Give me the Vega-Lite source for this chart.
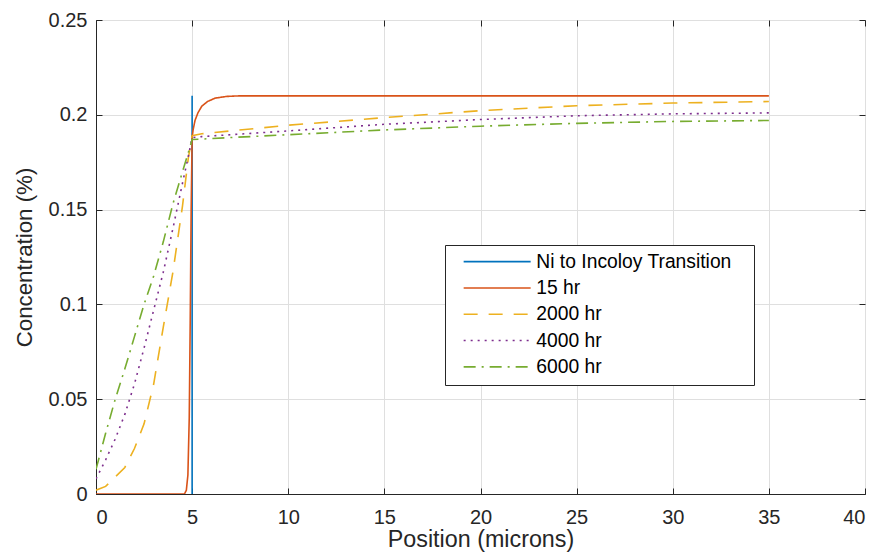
{
  "$schema": "https://vega.github.io/schema/vega-lite/v6.json",
  "width": 769,
  "height": 474,
  "autosize": {"type": "none"},
  "padding": {"left": 96, "top": 20, "right": 20, "bottom": 66},
  "background": "white",
  "config": {
    "font": "Liberation Sans",
    "view": {"stroke": "#262626", "strokeWidth": 1},
    "axis": {
      "domainColor": "#262626",
      "tickColor": "#262626",
      "labelColor": "#262626",
      "titleColor": "#262626",
      "gridColor": "#dfdfdf",
      "titleFontWeight": "normal",
      "labelFontSize": 20,
      "titleFontSize": 22.3
    }
  },
  "data": {
    "values": [
      {"series": "Ni to Incoloy Transition", "x": 5, "y": 0},
      {"series": "Ni to Incoloy Transition", "x": 5, "y": 0.21},
      {"series": "15 hr", "x": 0, "y": 0},
      {"series": "15 hr", "x": 4.6, "y": 0},
      {"series": "15 hr", "x": 4.7, "y": 0.002},
      {"series": "15 hr", "x": 4.78, "y": 0.01},
      {"series": "15 hr", "x": 4.85, "y": 0.04},
      {"series": "15 hr", "x": 4.9, "y": 0.09},
      {"series": "15 hr", "x": 4.95, "y": 0.15},
      {"series": "15 hr", "x": 5.0, "y": 0.188},
      {"series": "15 hr", "x": 5.05, "y": 0.192},
      {"series": "15 hr", "x": 5.15, "y": 0.197},
      {"series": "15 hr", "x": 5.3, "y": 0.201},
      {"series": "15 hr", "x": 5.5, "y": 0.2045},
      {"series": "15 hr", "x": 5.8, "y": 0.207},
      {"series": "15 hr", "x": 6.2, "y": 0.2088},
      {"series": "15 hr", "x": 6.8, "y": 0.2097},
      {"series": "15 hr", "x": 7.5, "y": 0.21},
      {"series": "15 hr", "x": 10, "y": 0.21},
      {"series": "15 hr", "x": 35, "y": 0.21},
      {"series": "2000 hr", "x": 0, "y": 0.002},
      {"series": "2000 hr", "x": 0.5, "y": 0.004},
      {"series": "2000 hr", "x": 1, "y": 0.009},
      {"series": "2000 hr", "x": 1.5, "y": 0.014},
      {"series": "2000 hr", "x": 2, "y": 0.024},
      {"series": "2000 hr", "x": 2.5, "y": 0.037},
      {"series": "2000 hr", "x": 3, "y": 0.058},
      {"series": "2000 hr", "x": 3.5, "y": 0.088},
      {"series": "2000 hr", "x": 4, "y": 0.117},
      {"series": "2000 hr", "x": 4.5, "y": 0.152},
      {"series": "2000 hr", "x": 4.8, "y": 0.177},
      {"series": "2000 hr", "x": 5, "y": 0.189},
      {"series": "2000 hr", "x": 5.5, "y": 0.19},
      {"series": "2000 hr", "x": 7, "y": 0.1915},
      {"series": "2000 hr", "x": 10, "y": 0.1945},
      {"series": "2000 hr", "x": 15, "y": 0.1985},
      {"series": "2000 hr", "x": 20, "y": 0.2022},
      {"series": "2000 hr", "x": 25, "y": 0.2048},
      {"series": "2000 hr", "x": 30, "y": 0.2062},
      {"series": "2000 hr", "x": 35, "y": 0.207},
      {"series": "4000 hr", "x": 0, "y": 0.008},
      {"series": "4000 hr", "x": 0.5, "y": 0.018},
      {"series": "4000 hr", "x": 1, "y": 0.029},
      {"series": "4000 hr", "x": 1.5, "y": 0.042},
      {"series": "4000 hr", "x": 2, "y": 0.058},
      {"series": "4000 hr", "x": 2.5, "y": 0.077},
      {"series": "4000 hr", "x": 3, "y": 0.097},
      {"series": "4000 hr", "x": 3.5, "y": 0.117},
      {"series": "4000 hr", "x": 4, "y": 0.14},
      {"series": "4000 hr", "x": 4.5, "y": 0.164},
      {"series": "4000 hr", "x": 4.8, "y": 0.178},
      {"series": "4000 hr", "x": 5, "y": 0.188},
      {"series": "4000 hr", "x": 5.5, "y": 0.1885},
      {"series": "4000 hr", "x": 7, "y": 0.1895},
      {"series": "4000 hr", "x": 10, "y": 0.1915},
      {"series": "4000 hr", "x": 15, "y": 0.195},
      {"series": "4000 hr", "x": 20, "y": 0.1975},
      {"series": "4000 hr", "x": 25, "y": 0.1995},
      {"series": "4000 hr", "x": 30, "y": 0.2005},
      {"series": "4000 hr", "x": 35, "y": 0.201},
      {"series": "6000 hr", "x": 0, "y": 0.013},
      {"series": "6000 hr", "x": 0.5, "y": 0.032},
      {"series": "6000 hr", "x": 1, "y": 0.05},
      {"series": "6000 hr", "x": 1.5, "y": 0.066},
      {"series": "6000 hr", "x": 2, "y": 0.083},
      {"series": "6000 hr", "x": 2.5, "y": 0.1},
      {"series": "6000 hr", "x": 3, "y": 0.115},
      {"series": "6000 hr", "x": 3.5, "y": 0.133},
      {"series": "6000 hr", "x": 4, "y": 0.153},
      {"series": "6000 hr", "x": 4.5, "y": 0.17},
      {"series": "6000 hr", "x": 4.8, "y": 0.18},
      {"series": "6000 hr", "x": 5, "y": 0.187},
      {"series": "6000 hr", "x": 5.5, "y": 0.1872},
      {"series": "6000 hr", "x": 7, "y": 0.188},
      {"series": "6000 hr", "x": 10, "y": 0.1895},
      {"series": "6000 hr", "x": 15, "y": 0.192},
      {"series": "6000 hr", "x": 20, "y": 0.194},
      {"series": "6000 hr", "x": 25, "y": 0.1955},
      {"series": "6000 hr", "x": 30, "y": 0.1965},
      {"series": "6000 hr", "x": 35, "y": 0.197}
    ]
  },
  "resolve": {"axis": {"x": "independent", "y": "independent"}},
  "layer": [
    {
      "mark": {"type": "line", "strokeWidth": 1.6, "clip": true},
      "encoding": {
        "x": {
          "field": "x", "type": "quantitative",
          "scale": {"domain": [0, 40], "nice": false},
          "axis": {
            "title": "Position (microns)",
            "titleFontSize": 23.3,
            "values": [0, 5, 10, 15, 20, 25, 30, 35, 40],
            "tickSize": -6,
            "labelPadding": 19,
            "titlePadding": 1,
            "grid": true
          }
        },
        "y": {
          "field": "y", "type": "quantitative",
          "scale": {"domain": [0, 0.25], "nice": false},
          "axis": {
            "title": "Concentration (%)",
            "values": [0, 0.05, 0.1, 0.15, 0.2, 0.25],
            "format": "~g",
            "tickSize": -6,
            "labelPadding": 15,
            "titlePadding": 12,
            "grid": true
          }
        },
        "color": {
          "field": "series", "type": "nominal",
          "scale": {
            "domain": ["Ni to Incoloy Transition", "15 hr", "2000 hr", "4000 hr", "6000 hr"],
            "range": ["#0072BD", "#D95319", "#EDB120", "#7E2F8E", "#77AC30"]
          },
          "legend": {
            "title": null,
            "orient": "none",
            "legendX": 349,
            "legendY": 225,
            "fillColor": "white",
            "strokeColor": "#262626",
            "padding": 7,
            "symbolOffset": 35.5,
            "symbolType": "M-6.7,0L6.7,0",
            "symbolSize": 100,
            "symbolStrokeWidth": 1.6,
            "labelFontSize": 19.3,
            "labelColor": "#000000",
            "labelOffset": 29.5,
            "rowPadding": 6.3,
            "labelLimit": 400,
            "labelExpr": "datum.label == 'Ni to Incoloy Transition' ? datum.label + '\u2002\u2005\u200b' : datum.label"
          }
        },
        "strokeDash": {
          "field": "series", "type": "nominal",
          "scale": {
            "domain": ["Ni to Incoloy Transition", "15 hr", "2000 hr", "4000 hr", "6000 hr"],
            "range": [[1, 0], [1, 0], [14, 11], [2, 5], [12, 6, 2, 6]]
          },
          "legend": null
        }
      }
    },
    {
      "mark": {"type": "line", "opacity": 0},
      "encoding": {
        "x": {
          "field": "x", "type": "quantitative",
          "scale": {"domain": [0, 40], "nice": false},
          "axis": {
            "orient": "top",
            "title": null,
            "values": [0, 5, 10, 15, 20, 25, 30, 35, 40],
            "labels": false,
            "domain": false,
            "grid": false,
            "tickSize": -6
          }
        },
        "y": {
          "field": "y", "type": "quantitative",
          "scale": {"domain": [0, 0.25], "nice": false},
          "axis": {
            "orient": "right",
            "title": null,
            "values": [0, 0.05, 0.1, 0.15, 0.2, 0.25],
            "labels": false,
            "domain": false,
            "grid": false,
            "tickSize": -6
          }
        },
        "detail": {"field": "series", "type": "nominal"}
      }
    }
  ]
}
